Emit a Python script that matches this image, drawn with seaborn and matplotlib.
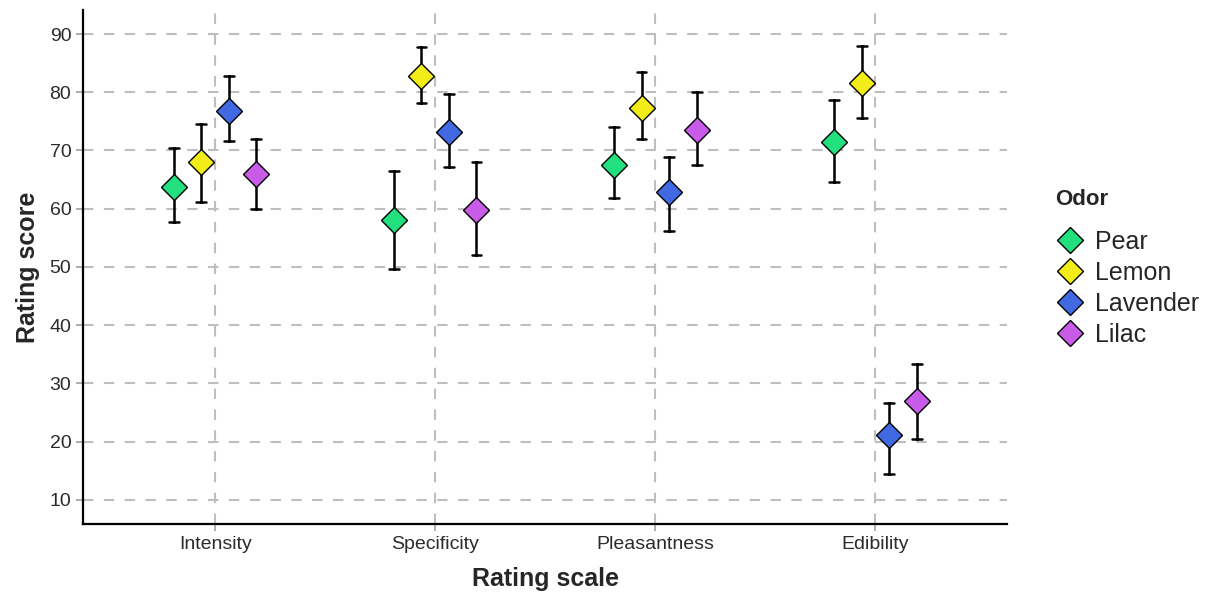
import numpy as np
import pandas as pd
import matplotlib
matplotlib.use("Agg")
import matplotlib.pyplot as plt
from matplotlib.lines import Line2D
import seaborn as sns

# Rating scales and odors
scales = ["Intensity", "Specificity", "Pleasantness", "Edibility"]
odors = ["Pear", "Lemon", "Lavender", "Lilac"]
colors = ["#22E07E", "#F2EC18", "#4169E1", "#C85CE8"]

# Mean rating and interval bounds, one row per scale, one column per odor
means = [
    [63.7, 68.0, 76.7, 65.9],
    [58.1, 82.8, 73.1, 59.7],
    [67.5, 77.3, 62.8, 73.5],
    [71.5, 81.5, 21.2, 27.0],
]
lower = [
    [57.7, 61.1, 71.7, 60.0],
    [49.7, 78.2, 67.2, 52.1],
    [61.9, 71.9, 56.1, 67.5],
    [64.5, 75.5, 14.5, 20.5],
]
upper = [
    [70.5, 74.5, 82.7, 71.9],
    [66.5, 87.7, 79.7, 68.0],
    [74.0, 83.5, 68.8, 80.0],
    [78.7, 87.9, 26.6, 33.3],
]

# Long table: each group holds its lower bound, mean and upper bound,
# so the median is the mean and the min/max span is the interval.
rows = []
for i, s in enumerate(scales):
    for j, o in enumerate(odors):
        for v in (lower[i][j], means[i][j], upper[i][j]):
            rows.append({"scale": s, "odor": o, "score": v})
df = pd.DataFrame(rows)

sns.set_theme(style="white")
plt.rcParams["font.family"] = ["Liberation Sans", "DejaVu Sans"]

fig = plt.figure(figsize=(12.05, 5.96), dpi=100)
ax = fig.add_axes([0.069, 0.121, 0.767, 0.862])

# Grid first so points sit on top
for y in range(10, 100, 10):
    ax.axhline(y, color="#BEBEBE", lw=1.5, ls=(0, (5, 5)), zorder=0)
for k in range(len(scales)):
    ax.axvline(k, color="#BEBEBE", lw=1.5, ls=(0, (5, 5)), zorder=0)

sns.pointplot(
    data=df, x="scale", y="score", hue="odor",
    order=scales, hue_order=odors, palette=colors,
    estimator=np.median, errorbar=lambda v: (v.min(), v.max()),
    dodge=0.375, linestyle="none", markers="D", markersize=13,
    markeredgecolor="black", markeredgewidth=1.0,
    capsize=0.045, err_kws={"color": "black", "linewidth": 1.8},
    ax=ax, legend=False,
)

# Keep markers above the error bars
for line in ax.lines:
    if line.get_marker() == "D":
        line.set_zorder(5)
        line.set_markeredgecolor("black")

ax.set_xlim(-0.6, 3.6)
ax.set_ylim(5.85, 94.1)
ax.set_yticks(range(10, 100, 10))

for side in ("top", "right"):
    ax.spines[side].set_visible(False)
for side in ("left", "bottom"):
    ax.spines[side].set_color("black")
    ax.spines[side].set_linewidth(1.6)

ax.tick_params(axis="both", which="major", length=5, width=1.2,
               color="#A0A0A0", labelsize=14, labelcolor="#2B2B2B",
               direction="out", left=True, bottom=True)

ax.set_xlabel("Rating scale", fontsize=18, fontweight="bold", labelpad=10)
ax.set_ylabel("Rating score", fontsize=18, fontweight="bold", labelpad=7)

# Legend
handles = [Line2D([], [], linestyle="none", marker="D", markersize=13,
                  markerfacecolor=c, markeredgecolor="black",
                  markeredgewidth=1.0) for c in colors]
leg = fig.legend(handles, odors, title="Odor", loc="center left",
                 bbox_to_anchor=(0.867, 0.55), frameon=False,
                 fontsize=18, title_fontsize=16, handletextpad=0.4,
                 labelspacing=0.28, handlelength=1.2, borderaxespad=0)
leg.get_title().set_fontweight("bold")
leg._legend_box.align = "left"
leg._legend_box.sep = 14

fig.savefig("out.png", dpi=100)
